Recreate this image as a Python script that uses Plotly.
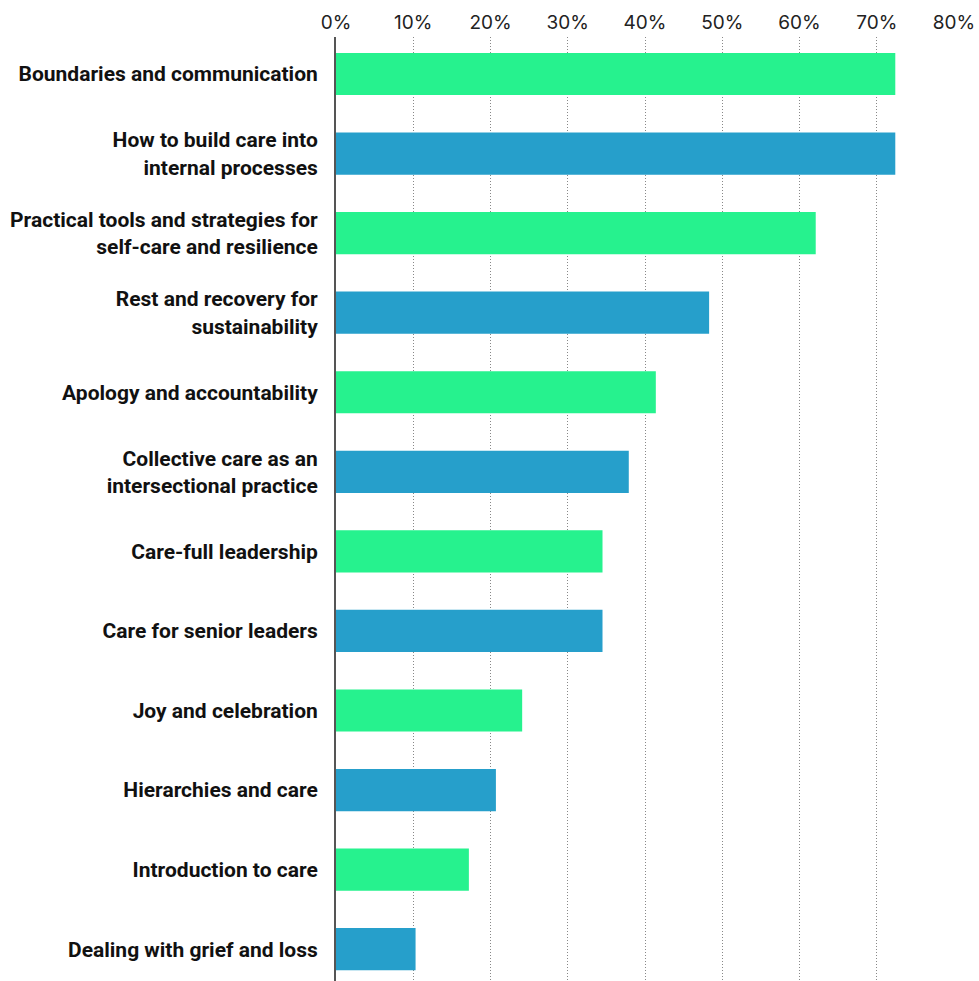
import plotly.graph_objects as go

# Topics, top to bottom, with share of respondents (%)
topics = [
    "Boundaries and communication",
    "How to build care into<br>internal processes",
    "Practical tools and strategies for<br>self-care and resilience",
    "Rest and recovery for<br>sustainability",
    "Apology and accountability",
    "Collective care as an<br>intersectional practice",
    "Care-full leadership",
    "Care for senior leaders",
    "Joy and celebration",
    "Hierarchies and care",
    "Introduction to care",
    "Dealing with grief and loss",
]
shares = [72.4, 72.4, 62.1, 48.3, 41.4, 37.9, 34.5, 34.5, 24.1, 20.7, 17.2, 10.3]

GREEN = "#26F28E"
BLUE = "#269FCB"
bar_colors = [GREEN if i % 2 == 0 else BLUE for i in range(len(topics))]

tick_vals = [0, 10, 20, 30, 40, 50, 60, 70, 80]
tick_text = [f"{v}%" for v in tick_vals]

fig = go.Figure(
    go.Bar(
        x=shares,
        y=list(range(len(topics))),
        orientation="h",
        marker=dict(color=bar_colors, line=dict(width=0)),
        width=0.53,
        hoverinfo="x+y",
    )
)

fig.update_layout(
    width=979,
    height=981,
    margin=dict(l=336, r=25, t=37, b=0, autoexpand=False),
    paper_bgcolor="white",
    plot_bgcolor="white",
    showlegend=False,
    xaxis=dict(
        side="top",
        range=[0, 80],
        tickvals=tick_vals,
        ticktext=tick_text,
        showgrid=True,
        gridcolor="#888888",
        griddash="1px,2px",
        gridwidth=1,
        zeroline=False,
        showline=False,
        ticks="",
        ticklabelstandoff=3,
        tickfont=dict(family="Inter", size=19, color="#222222"),
        automargin=False,
        fixedrange=True,
    ),
    yaxis=dict(
        range=[11.40, -0.465],
        tickvals=list(range(len(topics))),
        ticktext=topics,
        showgrid=False,
        zeroline=False,
        showline=True,
        linecolor="#555555",
        linewidth=2,
        ticks="",
        ticklabelstandoff=12,
        tickfont=dict(family="Roboto", size=21, color="#111111", weight="bold"),
        automargin=False,
        fixedrange=True,
    ),
)

fig.write_html("out.html")
